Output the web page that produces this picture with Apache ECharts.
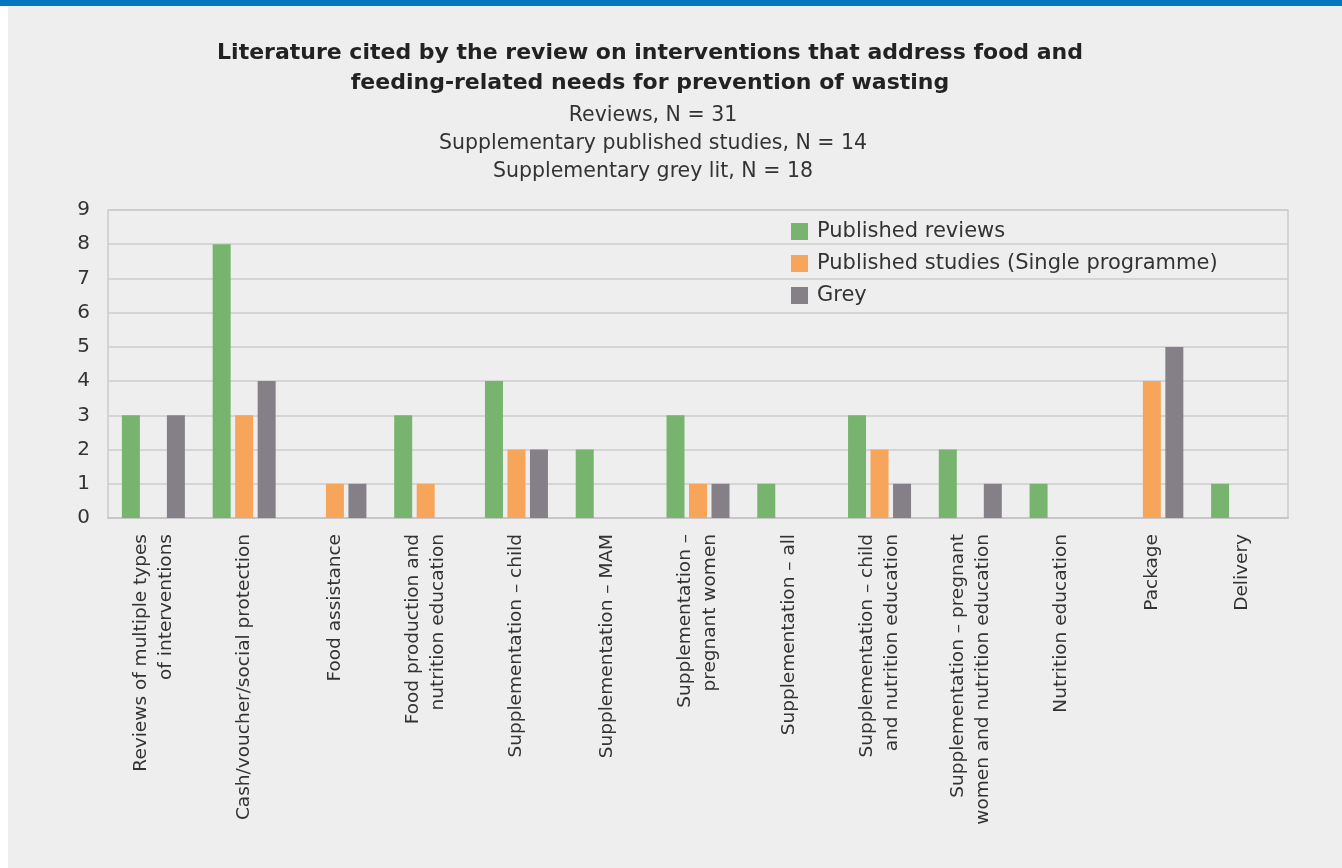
<!DOCTYPE html>
<html>
<head>
<meta charset="utf-8">
<script src="https://cdn.jsdelivr.net/npm/echarts@6/dist/echarts.min.js"></script>
<style>
  html, body { margin: 0; padding: 0; background: #ffffff; }
  #topbar { position: absolute; left: 0; top: 0; width: 1342px; height: 6px; background: #0077c0; }
  #chart { position: absolute; left: 8px; top: 6px; width: 1334px; height: 862px; }
</style>
</head>
<body>
<div id="topbar"></div>
<div id="chart"></div>
<script>
const categories = [
  'Reviews of multiple types\nof interventions',
  'Cash/voucher/social protection',
  'Food assistance',
  'Food production and\nnutrition education',
  'Supplementation – child',
  'Supplementation – MAM',
  'Supplementation –\npregnant women',
  'Supplementation – all',
  'Supplementation – child\nand nutrition education',
  'Supplementation – pregnant\nwomen and nutrition education',
  'Nutrition education',
  'Package',
  'Delivery'
];
const publishedReviews = [3, 8, 0, 3, 4, 2, 3, 1, 3, 2, 1, 0, 1];
const publishedStudies = [0, 3, 1, 1, 2, 0, 1, 0, 2, 0, 0, 4, 0];
const grey = [3, 4, 1, 0, 2, 0, 1, 0, 1, 1, 0, 5, 0];
const yTicks = [0, 1, 2, 3, 4, 5, 6, 7, 8, 9];

const titleText = 'Literature cited by the review on interventions that address food and\nfeeding-related needs for prevention of wasting';
const subText = 'Reviews, N = 31\nSupplementary published studies, N = 14\nSupplementary grey lit, N = 18';

const font = 'DejaVu Sans';
const chart = echarts.init(document.getElementById('chart'));

function bar(name, data, color) {
  return {
    name, type: 'bar', data,
    barWidth: 18, barGap: '25%',
    itemStyle: { color },
    emphasis: { disabled: true }
  };
}

chart.setOption({
  backgroundColor: '#eeeeee',
  animation: false,
  textStyle: { fontFamily: font },
  title: [{
    text: titleText,
    left: 637, top: 27, textAlign: 'center',
    textStyle: { fontSize: 22, fontWeight: 'bold', color: '#222', lineHeight: 30, fontFamily: font }
  }, {
    text: subText,
    left: 640, top: 91, textAlign: 'center',
    textStyle: { fontSize: 20.5, fontWeight: 'normal', color: '#333', lineHeight: 28, fontFamily: font }
  }],
  legend: {
    orient: 'vertical',
    left: 778, top: 210,
    itemWidth: 17, itemHeight: 17, itemGap: 11,
    icon: 'rect',
    textStyle: { fontSize: 21, color: '#333', fontFamily: font, padding: [0, 0, 0, 4] },
    data: ['Published reviews', 'Published studies (Single programme)', 'Grey']
  },
  grid: {
    left: 100, right: 54, top: 204, bottom: 350,
    show: true, borderColor: '#cccccc', borderWidth: 1.5
  },
  xAxis: {
    type: 'category',
    data: categories,
    axisLine: { lineStyle: { color: '#c8c6c8', width: 2 } },
    axisTick: { show: false },
    axisLabel: {
      rotate: 90, interval: 0, margin: 16,
      fontSize: 18.5, color: '#333', lineHeight: 25, fontFamily: font
    }
  },
  yAxis: {
    type: 'value',
    min: 0, max: 9, interval: 1,
    axisLine: { show: false },
    axisTick: { show: false },
    axisLabel: {
      fontSize: 20, color: '#333', margin: 18, fontFamily: font,
      formatter: v => yTicks.includes(v) ? String(v) : ''
    },
    splitLine: { lineStyle: { color: '#cccccc', width: 1.5 } }
  },
  series: [
    bar('Published reviews', publishedReviews, '#77b56e'),
    bar('Published studies (Single programme)', publishedStudies, '#f7a55b'),
    bar('Grey', grey, '#858087')
  ]
});
</script>
</body>
</html>
